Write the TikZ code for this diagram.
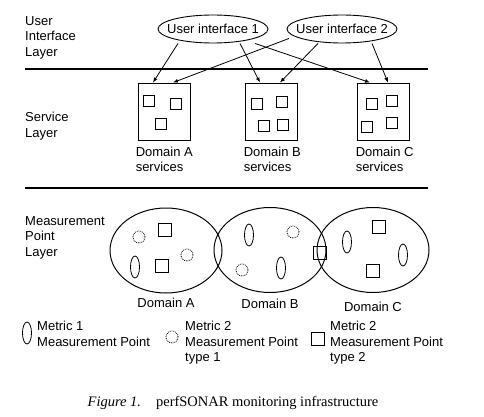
\documentclass[tikz,border=0pt]{standalone}
\usepackage{fontspec}
\setmainfont{Liberation Sans}
\newfontfamily\capfont{Liberation Serif}
\usetikzlibrary{arrows.meta,positioning,shapes.geometric}

\begin{document}
\begin{tikzpicture}[
  x=1pt, y=-1pt,
  every node/.style={font=\fontsize{13}{15.5}\selectfont},
  lbl/.style={inner sep=0, align=left, anchor=north west},
  ui/.style={draw, ellipse, line width=0.9pt, minimum width=110pt, minimum height=28pt, inner xsep=-8pt, inner ysep=1pt},
  svc/.style={draw, line width=0.9pt, minimum width=52pt, minimum height=57pt, inner sep=0},
  sq/.style={draw, line width=0.8pt, minimum size=11pt, inner sep=0},
  dom/.style={draw, ellipse, line width=1pt, minimum width=112pt, minimum height=85pt, inner sep=0},
  mpell/.style={draw, ellipse, line width=0.8pt, minimum width=9pt, minimum height=22pt, inner sep=0},
  mpdot/.style={draw, circle, densely dotted, line width=0.8pt, minimum size=12pt, inner sep=0},
  mpsq/.style={draw, line width=0.9pt, minimum size=13pt, inner sep=0},
  sep/.style={line width=1.2pt},
  arr/.style={-{Latex[length=5pt,width=4pt]}, line width=0.8pt}
]
\useasboundingbox (0,0) rectangle (484,417);

% layers
\node[lbl] (uil) at (25,16) {User\\Interface\\Layer};
\node[lbl] (svl) at (25,112) {Service\\Layer};
\node[lbl] (mpl) at (25,216) {Measurement\\Point\\Layer};
\draw[sep] (25,69) -- (428,69);
\draw[sep] (25,188) -- (428,188);

% user interfaces
\node[ui] (ui1) at (213,29) {User interface 1};
\node[ui] (ui2) at (342,29) {User interface 2};

% services
\node[svc] (svcA) at (164,111.5) {};
\node[svc] (svcB) at (271,111.5) {};
\node[svc] (svcC) at (383,111.5) {};
\node[lbl, below right=6pt and -2pt of svcA.south west] (svcAl) {Domain A\\services};
\node[lbl, below right=6pt and -1pt of svcB.south west] (svcBl) {Domain B\\services};
\node[lbl, below right=6pt and -1pt of svcC.south west] (svcCl) {Domain C\\services};
\node[sq] (sA1) at (149,101) {};
\node[sq] (sA2) at (176,104) {};
\node[sq] (sA3) at (161,124) {};
\node[sq] (sB1) at (257,104) {};
\node[sq] (sB2) at (282,102) {};
\node[sq] (sB3) at (264,126) {};
\node[sq] (sB4) at (283,125) {};
\node[sq] (sC1) at (372,104) {};
\node[sq] (sC2) at (392,101) {};
\node[sq] (sC3) at (367,127) {};
\node[sq] (sC4) at (392,123) {};

\draw[arr] ([xshift=-35pt]ui1.south) -- ([xshift=-11pt]svcA.north);
\draw[arr] ([xshift=27pt]ui1.south) -- ([xshift=-11pt]svcB.north);
\draw[arr] ([xshift=42pt]ui1.south) -- ([xshift=-13pt]svcC.north);
\draw[arr] ([xshift=-53pt,yshift=5pt]ui2.south) -- ([xshift=9pt]svcA.north);
\draw[arr] ([xshift=-24pt]ui2.south) -- ([xshift=9pt]svcB.north);
\draw[arr] ([xshift=30pt]ui2.south) -- ([xshift=5pt]svcC.north);

% measurement points
\node[dom] (domA) at (166,250.5) {};
\node[dom] (domB) at (270,250) {};
\node[dom] (domC) at (373,250) {};
\node[below=4pt of domA, inner sep=0] (domAl) {Domain A};
\node[below=6pt of domB, inner sep=0] (domBl) {Domain B};
\node[below=9pt of domC, inner sep=0] (domCl) {Domain C};

\node[mpdot] (pA1) at (139,237) {};
\node[mpsq] (pA2) at (165,230) {};
\node[mpdot] (pA3) at (187,255) {};
\node[mpell] (pA4) at (135,267) {};
\node[mpsq] (pA5) at (162,266) {};
\node[mpell] (pB1) at (249,235) {};
\node[mpdot] (pB2) at (293,232) {};
\node[mpdot] (pB3) at (242,270) {};
\node[mpell] (pB4) at (281,268) {};
\node[mpsq] (pB5) at (320,253) {};
\node[mpell] (pC1) at (347,242) {};
\node[mpsq] (pC2) at (379,227) {};
\node[mpell] (pC3) at (403,255) {};
\node[mpsq] (pC4) at (373,271) {};

% legend
\node[mpell] (lg1) at (27,333) {};
\node[lbl] (lg1t) at (37,321) {Metric 1\\Measurement Point};
\node[mpdot] (lg2) at (172,337) {};
\node[lbl] (lg2t) at (185,321) {Metric 2\\Measurement Point\\type 1};
\node[mpsq] (lg3) at (318,339) {};
\node[lbl] (lg3t) at (330,321) {Metric 2\\Measurement Point\\type 2};

% caption
\node (cap) at (233,403) {\capfont\fontsize{14.5}{17}\selectfont\textit{Figure 1.}\hspace{15pt}perfSONAR monitoring infrastructure};
\end{tikzpicture}
\end{document}
